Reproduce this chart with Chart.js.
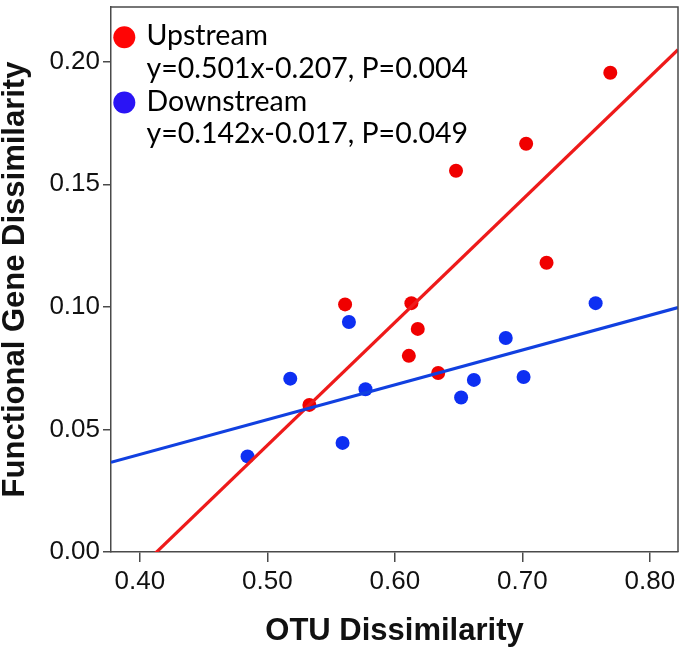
<!DOCTYPE html>
<html>
<head>
<meta charset="utf-8">
<script src="https://cdn.jsdelivr.net/npm/chart.js@4.4.0/dist/chart.umd.min.js"></script>
<style>
  html, body { margin: 0; padding: 0; background: #fff; }
  #wrap { width: 685px; height: 650px; position: relative; }
</style>
</head>
<body>
<div id="wrap"><canvas id="c" width="685" height="650"></canvas></div>
<script>
// ---- data ----
const upstreamX   = [0.533, 0.561, 0.611, 0.613, 0.618, 0.634, 0.648, 0.703, 0.719, 0.769];
const upstreamY   = [0.060, 0.101, 0.080, 0.1015, 0.091, 0.073, 0.1555, 0.1665, 0.118, 0.1955];
const downstreamX = [0.4845, 0.518, 0.559, 0.564, 0.577, 0.652, 0.662, 0.687, 0.701, 0.7575];
const downstreamY = [0.039, 0.0707, 0.0445, 0.0938, 0.0664, 0.063, 0.0702, 0.0873, 0.0714, 0.1015];
// regression coefficients [slope, intercept] as printed on the chart
const upstreamFit   = [0.501, -0.207];
const downstreamFit = [0.142, -0.017];
const legendLabels = ["Upstream", "y=0.501x-0.207, P=0.004", "Downstream", "y=0.142x-0.017, P=0.049"];
const xTicks = [0.40, 0.50, 0.60, 0.70, 0.80];
const yTicks = [0.00, 0.05, 0.10, 0.15, 0.20];
const xRange = [0.3774, 0.8221];
const yRange = [0.0, 0.2223];

const RED_PT = '#f00000', BLUE_PT = '#0d2ff2';
const RED_LN = '#ee1a1a', BLUE_LN = '#1140e0';
const FRAME = '#4a4a4a';

function pts(xs, ys) { return xs.map((x, i) => ({x: x, y: ys[i]})); }
function fitLine(c) { return xRange.map(x => ({x: x, y: c[0] * x + c[1]})); }

const framePlugin = {
  id: 'frame',
  afterDraw(chart) {
    const {ctx, chartArea: a} = chart;
    ctx.save();
    ctx.strokeStyle = FRAME;
    ctx.lineWidth = 1.5;
    ctx.beginPath();
    ctx.moveTo(a.left, a.top);
    ctx.lineTo(a.right, a.top);
    ctx.lineTo(a.right, a.bottom);
    ctx.stroke();
    // legend
    ctx.font = '28.5px Lato';
    ctx.fillStyle = '#000';
    ctx.textBaseline = 'alphabetic';
    ctx.textAlign = 'left';
    const baselines = [45, 77.5, 110.5, 143.3];
    legendLabels.forEach((t, i) => ctx.fillText(t, 146.5, baselines[i]));
    ctx.beginPath(); ctx.fillStyle = '#ff0505'; ctx.arc(124.3, 37.3, 11, 0, Math.PI * 2); ctx.fill();
    ctx.beginPath(); ctx.fillStyle = '#2a14f5'; ctx.arc(124.3, 102.5, 11, 0, Math.PI * 2); ctx.fill();
    ctx.restore();
  }
};

new Chart(document.getElementById('c'), {
  type: 'scatter',
  data: {
    datasets: [
      { label: 'Upstream fit', type: 'line', data: fitLine(upstreamFit), borderColor: RED_LN, borderWidth: 3.2,
        pointRadius: 0, fill: false, order: 1 },
      { label: 'Downstream fit', type: 'line', data: fitLine(downstreamFit), borderColor: BLUE_LN, borderWidth: 3.2,
        pointRadius: 0, fill: false, order: 0 },
      { label: 'Upstream', data: pts(upstreamX, upstreamY), backgroundColor: RED_PT, borderWidth: 0,
        pointRadius: 7, order: 2 },
      { label: 'Downstream', data: pts(downstreamX, downstreamY), backgroundColor: BLUE_PT, borderWidth: 0,
        pointRadius: 7, order: 2 }
    ]
  },
  options: {
    responsive: false,
    animation: false,
    devicePixelRatio: 1,
    layout: { padding: { top: 3, right: 4, left: 0, bottom: 0 } },
    plugins: { legend: { display: false }, tooltip: { enabled: false } },
    scales: {
      x: {
        type: 'linear', min: xRange[0], max: xRange[1],
        afterBuildTicks: s => { s.ticks = xTicks.map(v => ({value: v})); },
        afterFit: s => { s.height = 98; s.paddingLeft = 0; s.paddingRight = 0; },
        grid: { drawOnChartArea: false, drawTicks: true, tickLength: 10, color: FRAME, lineWidth: 1.5 },
        border: { display: true, color: FRAME, width: 1.5 },
        ticks: { callback: v => Number(v).toFixed(2), padding: 4, color: '#111',
                 font: { family: "'Liberation Sans', Arial, sans-serif", size: 26 }, maxRotation: 0 },
        title: { display: true, text: 'OTU Dissimilarity', color: '#111',
                 font: { family: "'Liberation Sans', Arial, sans-serif", size: 31, weight: 'bold', lineHeight: 1.2 },
                 padding: { top: 0, bottom: 0 } }
      },
      y: {
        type: 'linear', min: yRange[0], max: yRange[1],
        afterBuildTicks: s => { s.ticks = yTicks.map(v => ({value: v})); },
        afterFit: s => { s.width = 111; s.paddingTop = 0; s.paddingBottom = 0; },
        grid: { drawOnChartArea: false, drawTicks: true, tickLength: 8, color: FRAME, lineWidth: 1.5 },
        border: { display: true, color: FRAME, width: 1.5 },
        ticks: { callback: v => Number(v).toFixed(2), padding: 3, color: '#111',
                 font: { family: "'Liberation Sans', Arial, sans-serif", size: 26 } },
        title: { display: true, text: 'Functional Gene Dissimilarity', color: '#111',
                 font: { family: "'Liberation Sans', Arial, sans-serif", size: 31, weight: 'bold', lineHeight: 1 },
                 padding: { top: 0, bottom: 0 } }
      }
    }
  },
  plugins: [framePlugin]
});
</script>
</body>
</html>
